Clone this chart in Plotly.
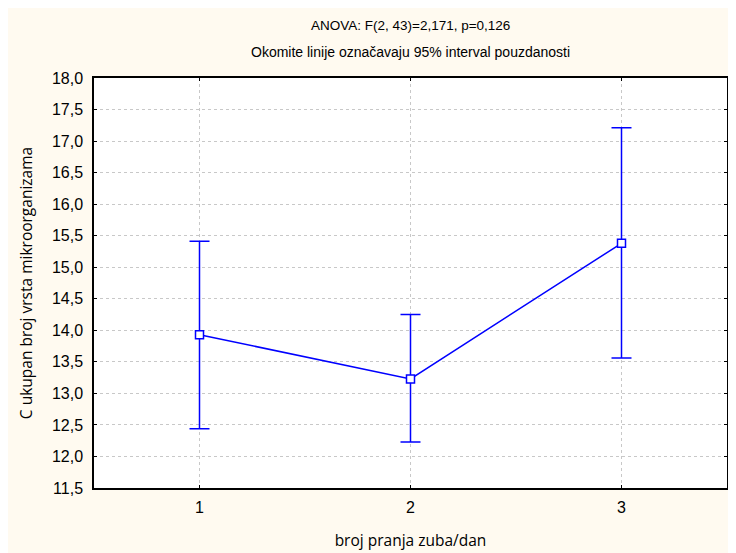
import plotly.graph_objects as go

# Data
groups = [1, 2, 3]
tick_labels = ["1", "2", "3"]
means = [13.93, 13.23, 15.38]
ci_lower = [12.44, 12.23, 13.56]
ci_upper = [15.41, 14.25, 17.21]

title_line1 = "ANOVA: F(2, 43)=2,171, p=0,126"
title_line2 = "Okomite linije označavaju 95% interval pouzdanosti"
x_title = "broj pranja zuba/dan"
y_title = "C ukupan broj vrsta mikroorganizama"

err_plus = [u - m for u, m in zip(ci_upper, means)]
err_minus = [m - l for m, l in zip(means, ci_lower)]

BLUE = "#0000FF"
CREAM = "#FFFAF0"
FONT = "Liberation Sans, Arial, sans-serif"
TITLE_FONT = "Open Sans, Liberation Sans, Arial, sans-serif"

fig = go.Figure()
fig.add_trace(go.Scatter(
    x=groups, y=means, mode="lines+markers",
    line=dict(color=BLUE, width=1.5),
    marker=dict(symbol="square", size=8, color="white",
                line=dict(color=BLUE, width=1.5)),
    error_y=dict(type="data", symmetric=False, array=err_plus,
                 arrayminus=err_minus, color=BLUE, thickness=1.5, width=10),
    showlegend=False,
))

axis_common = dict(
    showline=True, linecolor="black", linewidth=1.5, mirror="ticks",
    ticks="inside", ticklen=3, tickcolor="black",
    showgrid=True, gridcolor="#C8C8C8", griddash="dot", gridwidth=1,
    zeroline=False, automargin=False,
    tickfont=dict(family=FONT, size=16, color="black"),
)

fig.update_xaxes(
    range=[0.5, 3.5], tickvals=groups, ticktext=tick_labels,
    ticklabelstandoff=4,
    title=dict(text=x_title, font=dict(family=TITLE_FONT, size=15.5, color="black"), standoff=20),
    **axis_common,
)
fig.update_yaxes(
    range=[11.5, 18.0], dtick=0.5, tick0=11.5, tickformat=".1f",
    ticklabelstandoff=6,
    title=dict(text=y_title, font=dict(family=TITLE_FONT, size=15.5, color="black"), standoff=15),
    **axis_common,
)

# The page adds an 8px body margin, so the figure is sized to fit the window.
fig.update_layout(
    width=728, height=545,
    margin=dict(l=86, r=9, t=70, b=65, autoexpand=False),
    paper_bgcolor=CREAM, plot_bgcolor="white",
    separators=", ",
    annotations=[
        dict(text=title_line1, xref="paper", yref="paper", x=0.5, y=(488 - 25) / 410,
             xanchor="center", yanchor="middle", showarrow=False,
             font=dict(family=FONT, size=13.5, color="black")),
        dict(text=title_line2, xref="paper", yref="paper", x=0.5, y=(488 - 52) / 410,
             xanchor="center", yanchor="middle", showarrow=False,
             font=dict(family=FONT, size=14, color="black")),
    ],
)

fig.write_html("out.html")
